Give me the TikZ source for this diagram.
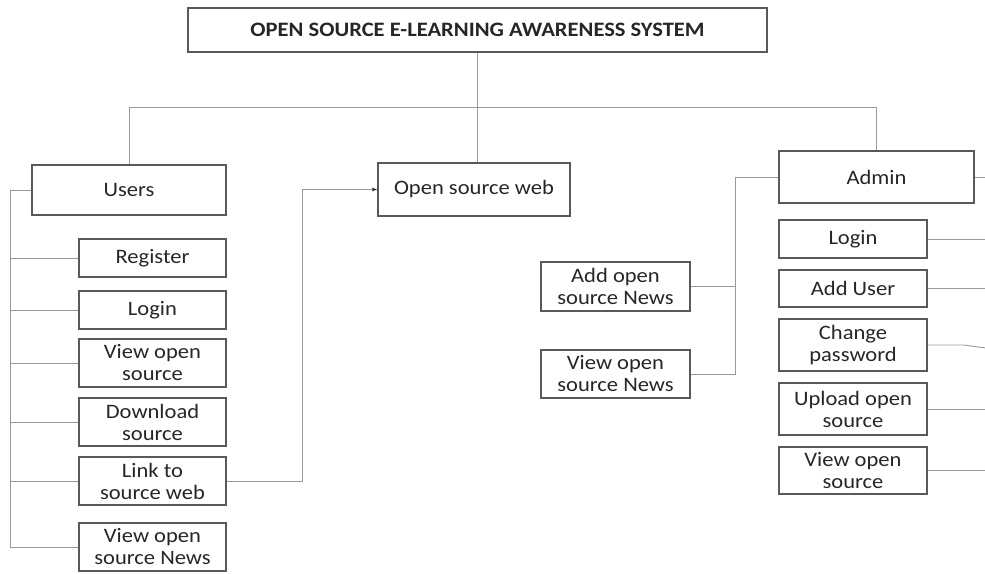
\documentclass[tikz,border=0pt]{standalone}
\usepackage{fontspec}
\setmainfont{Carlito}[FakeStretch=1.1]
\usetikzlibrary{arrows.meta}

\begin{document}
\begin{tikzpicture}[>={Latex[length=5pt,width=4pt]},x=1pt,y=-1pt,
  box/.style={draw=black!65,line width=1.1pt,align=center,inner sep=0pt,
    font=\fontsize{20.5}{22}\selectfont,text=black!85},
  link/.style={draw=black!40,line width=0.9pt}]
\useasboundingbox (0,0) rectangle (985,573);
% top and first level
\node[box,minimum width=579pt,minimum height=44pt,font=\bfseries\fontsize{20.5}{22}\selectfont] (title) at (477.5,30) {OPEN SOURCE E-LEARNING AWARENESS SYSTEM};
\node[box,minimum width=194pt,minimum height=50pt] (users) at (129,190) {Users};
\node[box,minimum width=192pt,minimum height=53pt] (web) at (474,189.5) {Open source web};
\node[box,minimum width=195pt,minimum height=52pt] (admin) at (876.5,177) {Admin};
% users side
\node[box,minimum width=147pt,minimum height=38pt] (reg) at (152.5,258) {Register};
\node[box,minimum width=147pt,minimum height=38pt] (ulogin) at (152.5,310) {Login};
\node[box,minimum width=147pt,minimum height=48pt] (uview) at (152.5,363) {View open\\source};
\node[box,minimum width=147pt,minimum height=48pt] (udown) at (152.5,422) {Download\\source};
\node[box,minimum width=147pt,minimum height=48pt] (ulink) at (152.5,481) {Link to\\source web};
\node[box,minimum width=147pt,minimum height=48pt] (unews) at (152.5,547) {View open\\source News};
% admin side
\node[box,minimum width=149pt,minimum height=49pt] (anews) at (615.5,286.5) {Add open\\source News};
\node[box,minimum width=149pt,minimum height=48pt] (avnews) at (615.5,374) {View open\\source News};
\node[box,minimum width=148pt,minimum height=38pt] (alogin) at (853,239) {Login};
\node[box,minimum width=148pt,minimum height=37pt] (auser) at (853,288.5) {Add User};
\node[box,minimum width=148pt,minimum height=52pt] (apass) at (853,345) {Change\\password};
\node[box,minimum width=148pt,minimum height=52pt] (aupload) at (853,409) {Upload open\\source};
\node[box,minimum width=148pt,minimum height=47pt] (aview) at (853,470.5) {View open\\source};
% bus lines
\coordinate (hbus) at (0,107);
\coordinate (ubus) at (10,0);
\coordinate (webbus) at (302,0);
\coordinate (abus) at (735,0);
\coordinate (redge) at (985,0);
\draw[link] (title.south) -- (title.south |- web.north);
\draw[link] (users.north) -- (users.north |- hbus) -- (admin.north |- hbus) -- (admin.north);
\draw[link] (users.west) -- (ubus |- users.west) -- (ubus |- unews.west) -- (unews.west);
\foreach \n in {reg,ulogin,uview,udown,ulink}
  \draw[link] (ubus |- \n.west) -- (\n.west);
\draw[link,-{Latex[length=5pt,width=4pt,color=black!80]}] (ulink.east) -- (webbus |- ulink.east) -- (webbus |- web.west) -- (web.west);
\draw[link] (admin.west) -- (abus |- admin.west) -- (abus |- avnews.east) -- (avnews.east);
\draw[link] (abus |- anews.east) -- (anews.east);
\draw[link] (admin.east) -- (redge |- admin.east);
\foreach \n in {alogin,auser,aupload,aview}
  \draw[link] (\n.east) -- (redge |- \n.east);
\draw[link] (apass.east) -- ++(36,0) -- ++(22,3);
\end{tikzpicture}
\end{document}
